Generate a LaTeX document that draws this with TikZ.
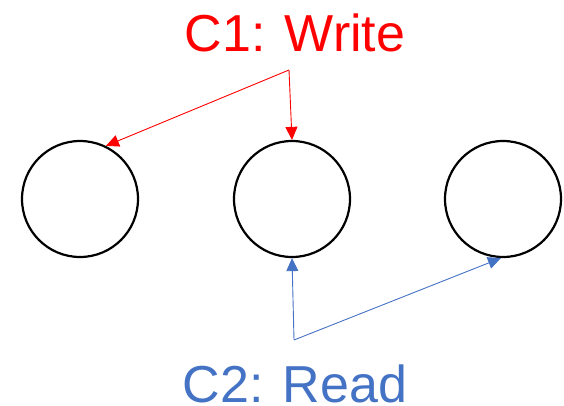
\documentclass[tikz,border=0pt]{standalone}
\usepackage{fontspec}
\setmainfont{Liberation Sans}
\usetikzlibrary{arrows.meta}
\definecolor{wred}{HTML}{FF0000}
\definecolor{rblue}{HTML}{4472C4}
\begin{document}
\begin{tikzpicture}[x=1pt,y=1pt,
  ring/.style={circle,draw=black,line width=2.2pt,minimum size=116pt,inner sep=0pt},
  wline/.style={draw=wred,line width=0.9pt,-{Triangle[length=13pt,width=12pt]}},
  rline/.style={draw=rblue,line width=0.9pt,-{Triangle[length=13pt,width=12pt]}},
  lbl/.style={font=\fontsize{52}{60}\selectfont,anchor=base,inner sep=0pt,text depth=0pt}]
\useasboundingbox (0,0) rectangle (564,405);
\node[ring] (n1) at (80,206) {};
\node[ring] (n2) at (292,206) {};
\node[ring] (n3) at (503,206) {};
\node[lbl,text=wred] (c1) at (295,353) {C1: Write};
\node[lbl,text=rblue] (c2) at (295,3) {C2: Read};
\coordinate (wsrc) at (289,335);
\coordinate (rsrc) at (294,65);
\draw[wline] (wsrc) -- (n1.64);
\draw[wline] (wsrc) -- (n2.north);
\draw[rline] (rsrc) -- (n2.south);
\draw[rline] (rsrc) -- (n3.268);
\end{tikzpicture}
\end{document}
